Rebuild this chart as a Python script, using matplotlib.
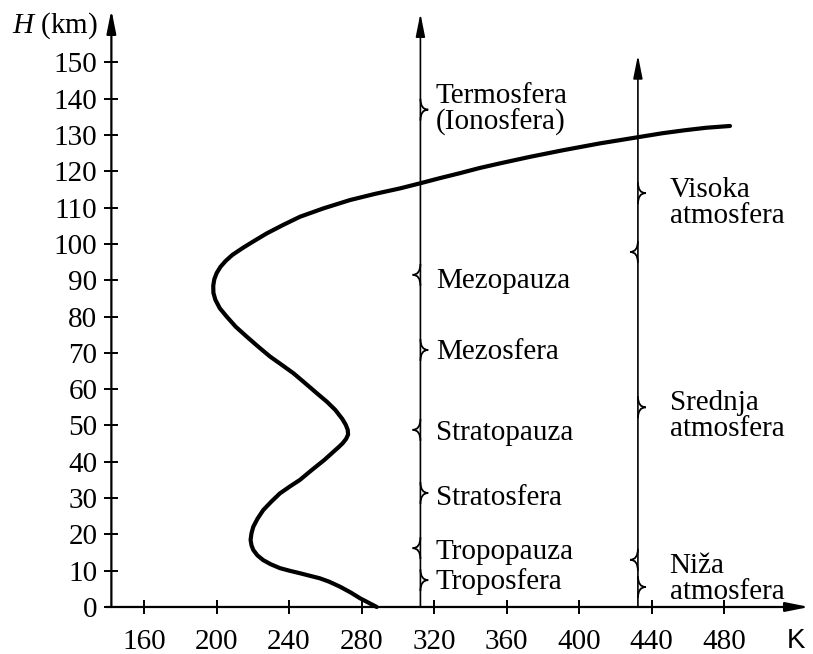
import matplotlib.pyplot as plt
from matplotlib.path import Path
from matplotlib.patches import PathPatch

# temperature profile (altitude km, temperature K)
H_km = [0, 2.4, 4, 5.6, 7, 7.9, 8.6, 9.3, 10, 10.7, 11.8, 12.9, 14.2, 15.7,
        17, 18.5, 20.3, 22.1, 24.3, 26.7, 29, 31.3, 33.2, 35, 37.7, 40.5,
        42.3, 44, 45.1, 46.3, 47.5, 48.8, 50.2, 51.8, 54.3, 56.5, 58.9, 61.7,
        64.4, 66.7, 69, 71.8, 74.5, 77.2, 80, 82.3, 84.6, 86.5, 88.5, 90.3,
        92, 93.7, 95.3, 97, 99, 100.9, 102.9, 105.2, 107.5, 109.8, 112.1,
        113.8, 115.3, 116.7, 118.1, 119.5, 120.9, 122.2, 124, 125.8, 127.7,
        129.5, 130.5, 131.3, 132, 132.5]
T_K = [288.4, 279.2, 274, 268.1, 262, 257, 251.5, 246, 240.2, 235, 229.8,
       225.8, 222.6, 220.3, 219.3, 218.8, 219.3, 220.3, 222.6, 225.8, 230.2,
       235, 240.5, 246, 252.5, 259.5, 263.5, 267.3, 269.6, 271.5, 272.6, 272.4,
       271.3, 269.4, 265.5, 261, 255.3, 248.8, 242.4, 236, 229.5, 222.8, 216.6,
       210.6, 205.6, 201.8, 199.4, 198.3, 198.2, 198.8, 200.1, 202.2, 205, 208.8,
       214.8, 221, 227.7, 236.6, 246.1, 259, 273.7, 287.5, 301.2, 312.3, 323,
       334.3, 345, 356.4, 373, 391, 411.5, 433.7, 446, 458, 470, 483.3]

xticks = [160, 200, 240, 280, 320, 360, 400, 440, 480]
yticks = [0, 10, 20, 30, 40, 50, 60, 70, 80, 90, 100, 110, 120, 130, 140, 150]

# left scale: layers
layer_labels = ['Termosfera\n(Ionosfera)', 'Mezopauza', 'Mezosfera', 'Stratopauza',
                'Stratosfera', 'Tropopauza', 'Troposfera']
layer_label_h = [137, 89.8, 70.2, 47.9, 30, 15.2, 6.9]
layer_marks_h = [137, 91.5, 70.8, 48.8, 31.4, 16.2, 7.4]
layer_marks_dir = [1, -1, 1, -1, 1, -1, 1]

# right scale: atmosphere parts
part_labels = ['Visoka\natmosfera', 'Srednja\natmosfera', 'Niža\natmosfera']
part_label_h = [111.4, 52.6, 7.75]
part_marks_h = [114, 97.8, 55, 13, 5.5]
part_marks_dir = [1, -1, 1, -1, 1]

plt.rcParams['font.family'] = 'Liberation Serif'
plt.rcParams['mathtext.fontset'] = 'custom'
plt.rcParams['mathtext.it'] = 'Liberation Serif:italic'
plt.rcParams['mathtext.rm'] = 'Liberation Serif'

fig = plt.figure(figsize=(8.13, 6.54), dpi=100)
ax = fig.add_axes([0, 0, 1, 1])
ax.set_xlim(80.55, 529.1)
ax.set_ylim(-12.95, 167.2)
for s in ax.spines.values():
    s.set_visible(False)
ax.spines['left'].set_position(('data', 142))
ax.spines['bottom'].set_position(('data', 0))

ax.set_xticks(xticks)
ax.set_yticks(yticks)
ax.tick_params(direction='inout', length=10, width=1.4, labelsize=21,
               top=False, right=False)
ax.tick_params(axis='x', pad=11)
ax.tick_params(axis='y', pad=5)

head = '-|>,head_length=1.4,head_width=0.28'


def arrow(x0, y0, x1, y1, lw):
    ax.annotate('', xy=(x1, y1), xytext=(x0, y0),
                arrowprops=dict(arrowstyle=head, lw=lw, color='k',
                                shrinkA=0, shrinkB=0))


def kink(x0, y0, d):
    # brace tip on a vertical line, d = +1 right, -1 left
    w = 4.3 * d
    h = 3.0
    verts = [(x0, y0 - h), (x0, y0), (x0 + w, y0), (x0, y0), (x0, y0 + h)]
    codes = [Path.MOVETO, Path.CURVE3, Path.CURVE3, Path.CURVE3, Path.CURVE3]
    ax.add_patch(PathPatch(Path(verts, codes), fill=False, lw=1.3, color='k'))


# axes
arrow(142, 0, 142, 164.5, 1.6)
arrow(139, 0, 527, 0, 1.6)

# temperature curve
ax.plot(T_K, H_km, color='k', lw=3, solid_joinstyle='round', solid_capstyle='round')

# scales
arrow(312.5, 0, 312.5, 163.5, 1.2)
arrow(432.5, 0, 432.5, 152, 1.2)
for h, d in zip(layer_marks_h, layer_marks_dir):
    kink(312.5, h, d)
for h, d in zip(part_marks_h, part_marks_dir):
    kink(432.5, h, d)

for lab, h in zip(layer_labels, layer_label_h):
    ax.text(321, h, lab, fontsize=21, ha='left', va='center', linespacing=1.0)
for lab, h in zip(part_labels, part_label_h):
    ax.text(450, h, lab, fontsize=21, ha='left', va='center', linespacing=1.0)

ax.text(134.6, 160.0, r'$H$ (km)', fontsize=21, ha='right', va='center')
ax.text(519.5, -9.3, 'K', fontsize=20, ha='center', va='center',
        family='Liberation Sans')

fig.savefig('out.png', dpi=100)
